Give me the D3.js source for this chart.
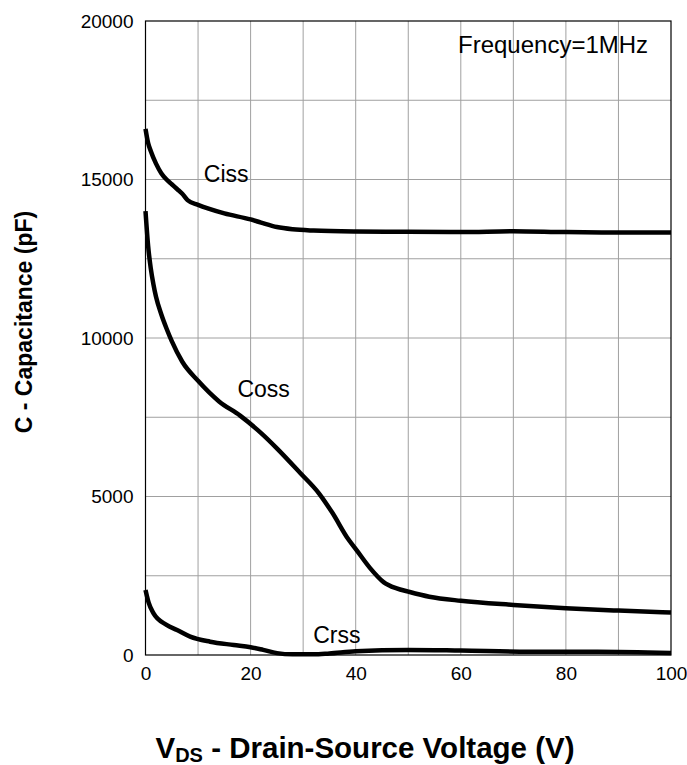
<!DOCTYPE html>
<html>
<head>
<meta charset="utf-8">
<script src="https://cdn.jsdelivr.net/npm/d3@7"></script>
<style>
  html, body { margin: 0; padding: 0; background: #fff; }
  svg { display: block; font-family: "Liberation Sans", Arial, sans-serif; }
</style>
</head>
<body>
<svg id="chart" width="687" height="765"></svg>
<script>
// Capacitance vs drain-source voltage (pF), f = 1 MHz
const cissV = [0, 0.5, 1, 2, 3, 4, 5, 6, 7, 8, 10, 12, 15, 20, 22, 25, 28, 32, 40, 50, 60, 70, 80, 90, 100];
const cissC = [16600, 16150, 15900, 15500, 15200, 15000, 14850, 14700, 14550, 14350, 14200, 14080, 13930, 13740, 13640, 13500, 13430, 13390, 13360, 13350, 13340, 13370, 13340, 13330, 13330];

const cossV = [0, 0.5, 1, 1.5, 2, 3, 4, 5, 7, 10, 14, 18, 22, 25, 29.4, 33, 35.5, 38.6, 40.2, 42.7, 45.3, 47.8, 50, 54, 60, 70, 80, 90, 100];
const cossC = [14000, 12900, 12200, 11700, 11300, 10750, 10300, 9900, 9250, 8650, 8000, 7550, 7000, 6520, 5750, 5100, 4500, 3650, 3300, 2750, 2300, 2100, 2000, 1840, 1710, 1580, 1475, 1400, 1340];

const crssV = [0, 0.6, 1.5, 4, 6, 8.5, 12.3, 16.8, 20, 22.4, 25, 28, 32, 35, 40, 50, 60, 73, 86, 100];
const crssC = [2050, 1650, 1320, 950, 790, 580, 420, 315, 245, 160, 60, 20, 20, 50, 120, 160, 140, 105, 105, 60];

const xTicks = [0, 20, 40, 60, 80, 100];
const yTicks = [0, 5000, 10000, 15000, 20000];
const xGrid = [10, 20, 30, 40, 50, 60, 70, 80, 90];
const yGrid = [2500, 5000, 7500, 10000, 12500, 15000, 17500];

const curveLabels = [
  { text: "Ciss", v: 11.1, c: 14920 },
  { text: "Coss", v: 17.5, c: 8150 },
  { text: "Crss", v: 31.9, c: 380 }
];

const svg = d3.select("#chart");
const plotL = 145.5, plotR = 671, plotT = 21, plotB = 655;

const x = d3.scaleLinear().domain([0, 100]).range([plotL, plotR]);
const y = d3.scaleLinear().domain([0, 20000]).range([plotB, plotT]);

// grid
svg.append("g").selectAll("line").data(xGrid).join("line")
  .attr("x1", d => x(d)).attr("x2", d => x(d))
  .attr("y1", plotT).attr("y2", plotB)
  .attr("stroke", "#a0a0a0").attr("stroke-width", 1);
svg.append("g").selectAll("line").data(yGrid).join("line")
  .attr("x1", plotL).attr("x2", plotR)
  .attr("y1", d => y(d)).attr("y2", d => y(d))
  .attr("stroke", "#a0a0a0").attr("stroke-width", 1);

// frame
svg.append("rect")
  .attr("x", plotL).attr("y", plotT)
  .attr("width", plotR - plotL).attr("height", plotB - plotT)
  .attr("fill", "none").attr("stroke", "#000").attr("stroke-width", 1.2);

// axes
const xAxis = svg.append("g")
  .attr("transform", `translate(0,${plotB})`)
  .call(d3.axisBottom(x).tickValues(xTicks).tickSize(0).tickPadding(12).tickFormat(d3.format("d")));
const yAxis = svg.append("g")
  .attr("transform", `translate(${plotL},0)`)
  .call(d3.axisLeft(y).tickValues(yTicks).tickSize(0).tickPadding(12).tickFormat(d3.format("d")));
[xAxis, yAxis].forEach(a => {
  a.select(".domain").remove();
  a.selectAll("text").attr("font-size", 19).attr("fill", "#000")
    .attr("font-family", "Liberation Sans, Arial, sans-serif");
});

// curves
const line = d3.line().x(d => x(d[0])).y(d => y(d[1])).curve(d3.curveMonotoneX);
[[cissV, cissC], [cossV, cossC], [crssV, crssC]].forEach(([vs, cs]) => {
  svg.append("path")
    .datum(vs.map((v, i) => [v, cs[i]]))
    .attr("d", line)
    .attr("fill", "none")
    .attr("stroke", "#000")
    .attr("stroke-width", 4.5)
    .attr("stroke-linejoin", "round")
    .attr("stroke-linecap", "butt");
});

// curve labels
svg.append("g").selectAll("text").data(curveLabels).join("text")
  .attr("x", d => x(d.v)).attr("y", d => y(d.c))
  .attr("font-size", 23).attr("fill", "#000")
  .text(d => d.text);

svg.append("text")
  .attr("x", 458).attr("y", 53)
  .attr("font-size", 24).attr("fill", "#000")
  .text("Frequency=1MHz");

// axis titles
svg.append("text")
  .attr("transform", "translate(32,322) rotate(-90)")
  .attr("text-anchor", "middle")
  .attr("font-size", 23).attr("font-weight", "bold")
  .text("C - Capacitance (pF)");

const xt = svg.append("text")
  .attr("x", 365).attr("y", 758)
  .attr("text-anchor", "middle")
  .attr("font-size", 29.5).attr("font-weight", "bold");
xt.append("tspan").text("V");
xt.append("tspan").attr("font-size", 20).attr("dy", 4).text("DS");
xt.append("tspan").attr("dy", -4).text(" - Drain-Source Voltage (V)");
</script>
</body>
</html>
